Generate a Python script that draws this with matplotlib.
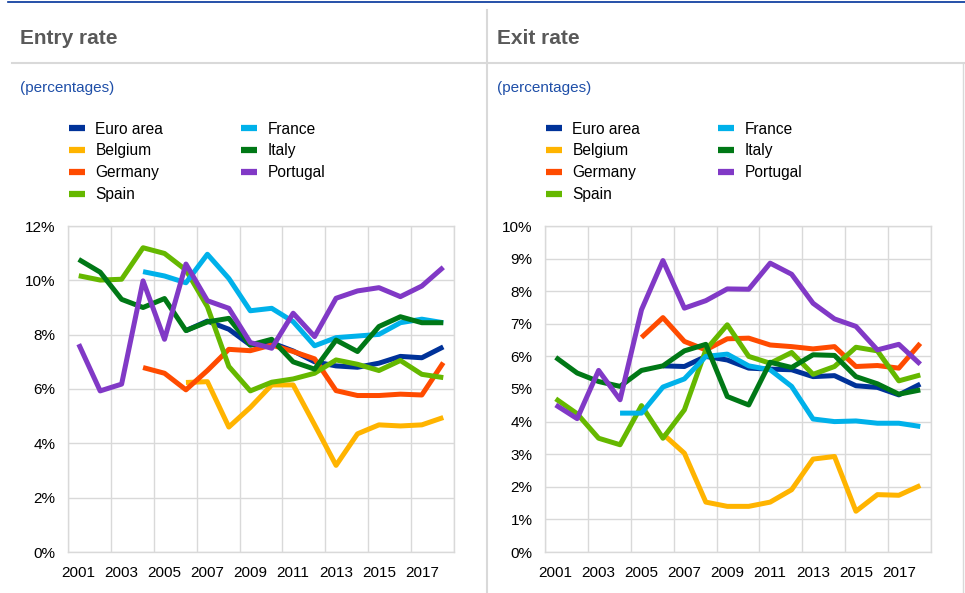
import numpy as np
import matplotlib
matplotlib.use("Agg")
import matplotlib.pyplot as plt
from matplotlib.lines import Line2D

plt.rcParams['font.family'] = ['Liberation Sans', 'DejaVu Sans']

years = list(range(2001, 2019))
series_names = ['Euro area', 'Belgium', 'Germany', 'Spain', 'France', 'Italy', 'Portugal']
colors = ['#003299', '#FFB400', '#FF4B00', '#65B800', '#00B1EA', '#007816', '#8139C6']
nan = np.nan

# Entry rates (%), 2001-2018
entry_euro = [nan, nan, nan, nan, nan, 8.15, 8.5, 8.2, 7.62, 7.7, 7.4, 7.0, 6.85, 6.8, 6.95, 7.2, 7.15, 7.55]
entry_belgium = [nan, nan, nan, nan, nan, 6.24, 6.27, 4.6, 5.32, 6.15, 6.15, 4.68, 3.19, 4.35, 4.68, 4.64, 4.68, 4.95]
entry_germany = [nan, nan, nan, 6.79, 6.58, 5.97, 6.68, 7.46, 7.41, 7.62, 7.38, 7.11, 5.94, 5.76, 5.76, 5.81, 5.78, 6.97]
entry_spain = [10.17, 10.01, 10.04, 11.2, 10.99, 10.38, 9.03, 6.83, 5.93, 6.25, 6.37, 6.58, 7.07, 6.91, 6.68, 7.05, 6.54, 6.42]
entry_france = [nan, nan, nan, 10.32, 10.16, 9.91, 10.96, 10.07, 8.88, 8.97, 8.48, 7.59, 7.89, 7.95, 8.01, 8.44, 8.57, 8.44]
entry_italy = [10.77, 10.3, 9.3, 9.0, 9.33, 8.15, 8.47, 8.6, 7.62, 7.83, 7.0, 6.73, 7.8, 7.38, 8.3, 8.66, 8.44, 8.44]
entry_portugal = [7.65, 5.93, 6.18, 9.98, 7.83, 10.6, 9.25, 8.97, 7.71, 7.5, 8.79, 7.93, 9.34, 9.61, 9.73, 9.4, 9.79, 10.48]

# Exit rates (%), 2001-2018
exit_euro = [nan, nan, nan, nan, nan, 5.71, 5.69, 6.0, 5.89, 5.64, 5.61, 5.59, 5.38, 5.41, 5.1, 5.05, 4.82, 5.15]
exit_belgium = [nan, nan, nan, nan, nan, 3.62, 3.03, 1.53, 1.4, 1.4, 1.53, 1.91, 2.85, 2.93, 1.25, 1.76, 1.74, 2.04]
exit_germany = [nan, nan, nan, nan, 6.58, 7.19, 6.46, 6.2, 6.54, 6.56, 6.35, 6.3, 6.23, 6.3, 5.69, 5.72, 5.64, 6.4]
exit_spain = [4.7, 4.24, 3.49, 3.29, 4.49, 3.49, 4.36, 6.2, 6.97, 6.0, 5.79, 6.12, 5.45, 5.69, 6.28, 6.17, 5.25, 5.43]
exit_france = [nan, nan, nan, 4.26, 4.26, 5.06, 5.31, 6.0, 6.07, 5.71, 5.59, 5.08, 4.08, 4.0, 4.02, 3.95, 3.95, 3.85]
exit_italy = [5.97, 5.49, 5.23, 5.08, 5.57, 5.71, 6.17, 6.37, 4.77, 4.51, 5.82, 5.66, 6.05, 6.03, 5.38, 5.16, 4.84, 4.97]
exit_portugal = [4.51, 4.09, 5.57, 4.67, 7.43, 8.94, 7.48, 7.71, 8.07, 8.06, 8.86, 8.52, 7.63, 7.15, 6.92, 6.2, 6.37, 5.76]

entry_data = [entry_euro, entry_belgium, entry_germany, entry_spain, entry_france, entry_italy, entry_portugal]
exit_data = [exit_euro, exit_belgium, exit_germany, exit_spain, exit_france, exit_italy, exit_portugal]

W, H = 965, 593
fig = plt.figure(figsize=(W / 100, H / 100), dpi=100)
grid_col = '#D9D9D9'


def fx(px):
    return px / W


def fy(py):
    return 1 - py / H


# page furniture: top rule, panel separators
fig.add_artist(Line2D([fx(8), 1], [fy(2), fy(2)], color='#003299', lw=1.2))
fig.add_artist(Line2D([fx(12), 1], [fy(63), fy(63)], color=grid_col, lw=1.5))
fig.add_artist(Line2D([fx(487), fx(487)], [fy(10), 0], color=grid_col, lw=1.5))
fig.add_artist(Line2D([fx(963), fx(963)], [fy(63), 0], color=grid_col, lw=1.0))


def panel(x0, ax_left, title, data, ymax, ystep):
    fig.text(fx(x0), fy(38), title, fontsize=15, fontweight='bold', color='#595959', va='center')
    fig.text(fx(x0), fy(88), '(percentages)', fontsize=11, color='#1F4FA8', va='center')

    ax = fig.add_axes([fx(ax_left), fy(552), fx(386), 326 / H])
    x = np.arange(len(years))
    handles = []
    for vals, name, c in zip(data, series_names, colors):
        ln, = ax.plot(x, vals, color=c, lw=3.6, solid_joinstyle='round',
                      solid_capstyle='butt', label=name)
        handles.append(ln)

    ax.set_xlim(-0.5, len(years) - 0.5)
    ax.set_ylim(0, ymax)
    ax.set_yticks(np.arange(0, ymax + 0.01, ystep))
    ax.set_yticklabels([f'{v:g}%' for v in np.arange(0, ymax + 0.01, ystep)])
    ax.set_xticks(x[::2])
    ax.set_xticklabels([str(y) for y in years[::2]])
    ax.set_xticks(np.arange(-0.5, len(years), 2), minor=True)
    ax.grid(False)
    ax.grid(True, which='minor', axis='x', color=grid_col, lw=1.0)
    ax.grid(True, which='major', axis='y', color=grid_col, lw=1.0)
    ax.set_axisbelow(True)
    ax.tick_params(which='both', length=0, labelsize=11, colors='black')
    ax.tick_params(axis='y', pad=9)
    ax.tick_params(axis='x', pad=10)
    for s in ax.spines.values():
        s.set_color(grid_col)
        s.set_linewidth(1.0)

    leg = fig.legend(handles, series_names,
                     loc='upper left', bbox_to_anchor=(fx(x0 + 49), fy(121.5)),
                     ncol=2, frameon=False, fontsize=11.2, borderpad=0,
                     handlelength=1.05, handletextpad=0.65, labelspacing=0.45,
                     columnspacing=5.0, borderaxespad=0)
    for lh in leg.legend_handles:
        lh.set_linewidth(4.5)
    return ax


panel(20, 68, 'Entry rate', entry_data, 12, 2)
panel(497, 545, 'Exit rate', exit_data, 10, 1)

fig.savefig('out.png', dpi=100)
